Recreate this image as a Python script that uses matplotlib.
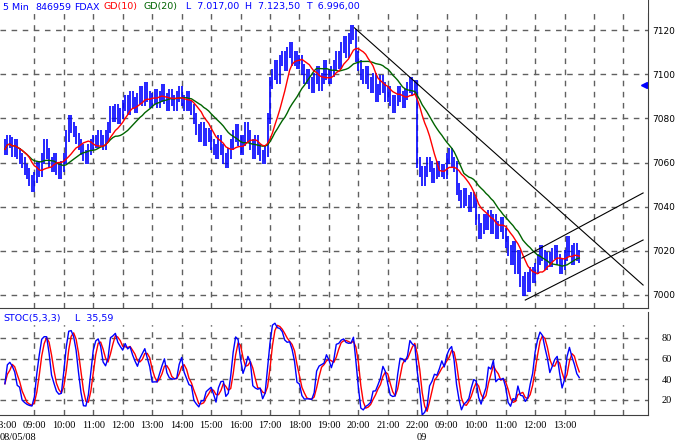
import numpy as np
import pandas as pd
import matplotlib
matplotlib.use('Agg')
import matplotlib.pyplot as plt

# 5 min closes, FDAX 08/05/08 08:00 -> 09/05/08 13:30, one row per hour
closes = [
    7066, 7070, 7069, 7065, 7068, 7064, 7062, 7060, 7057, 7055, 7052, 7049,
    7053, 7058, 7056, 7062, 7068, 7064, 7060, 7058, 7062, 7057, 7055, 7058,
    7062, 7072, 7079, 7076, 7074, 7071, 7068, 7066, 7063, 7062, 7066, 7068,
    7070, 7069, 7072, 7070, 7068, 7072, 7076, 7083, 7081, 7084, 7080, 7082,
    7086, 7088, 7084, 7090, 7087, 7085, 7089, 7092, 7088, 7094, 7090, 7087,
    7089, 7091, 7087, 7090, 7093, 7089, 7086, 7091, 7088, 7086, 7090, 7092,
    7088, 7086, 7090, 7086, 7084, 7080, 7075, 7072, 7076, 7070, 7073, 7072,
    7068, 7066, 7064, 7070, 7066, 7062, 7060, 7064, 7068, 7072, 7075, 7070,
    7066, 7070, 7076, 7072, 7068, 7064, 7070, 7066, 7063, 7062, 7065, 7080,
    7096, 7100, 7104, 7098, 7106, 7108, 7104, 7110, 7112, 7106, 7108, 7105,
    7106, 7102, 7098, 7100, 7096, 7094, 7098, 7101, 7095, 7098, 7104, 7100,
    7098, 7101, 7104, 7108, 7105, 7112, 7115, 7110, 7116, 7120, 7118, 7108,
    7104, 7100, 7098, 7101, 7096, 7094, 7098, 7090, 7093, 7097, 7094, 7090,
    7092, 7088, 7085, 7088, 7092, 7090, 7087, 7091, 7094, 7096, 7093, 7095,
    7060, 7056, 7052, 7056, 7060, 7058, 7053, 7055, 7058, 7056, 7057, 7055,
    7062, 7064, 7060, 7058, 7048, 7045, 7042, 7046, 7043, 7040, 7044, 7042,
    7034, 7028, 7030, 7034, 7032, 7036, 7030, 7034, 7028, 7031, 7033, 7028,
    7024, 7020, 7016, 7022, 7012, 7018, 7006, 7002, 7008, 7004, 7010, 7008,
    7012, 7016, 7020, 7018, 7014, 7017, 7015, 7019, 7020, 7016, 7012, 7014,
    7018, 7024, 7020, 7016, 7021, 7018, 7017,
]
first_open = 7068

tick_pos = [0, 12, 24, 36, 48, 60, 72, 84, 96, 108, 120, 132, 144, 156, 168,
            180, 192, 204, 216, 228]
tick_labels = ['08:00', '09:00', '10:00', '11:00', '12:00', '13:00', '14:00',
               '15:00', '16:00', '17:00', '18:00', '19:00', '20:00', '21:00',
               '22:00', '09:00', '10:00', '11:00', '12:00', '13:00']

# hand drawn trend lines (bar index, price)
down_line = [(142.4, 7121.0), (260.0, 7004.5)]
chan_low = [(212.0, 6997.7), (260.0, 7024.9)]
chan_up = [(210.6, 7016.7), (260.0, 7046.2)]
last_marker = (260.5, 7095)

c = np.array(closes, dtype=float)
o = np.concatenate([[first_open], c[:-1]])
hi = np.maximum(o, c) + 2.5
lo = np.minimum(o, c) - 2.5
idx = np.arange(len(c))

s = pd.Series(c)
gd10 = s.rolling(10, min_periods=1).mean()
gd20 = s.rolling(20, min_periods=1).mean()
hh = pd.Series(hi).rolling(5, min_periods=1).max()
ll = pd.Series(lo).rolling(5, min_periods=1).min()
k_raw = (s - ll) / (hh - ll) * 100
k_slow = k_raw.rolling(3, min_periods=1).mean()
d_line = k_slow.rolling(3, min_periods=1).mean()

W, H = 678, 445
fig = plt.figure(figsize=(W / 100, H / 100), dpi=100)
ax = fig.add_axes([0, 1 - 308 / H, 648 / W, 308 / H])
ax2 = fig.add_axes([0, 1 - 415 / H, 648 / W, 103 / H])

grid_kw = dict(color='#606060', lw=1, ls=(0, (4, 4)))
xmin, xmax = -2, 262
for a in (ax, ax2):
    for g in range(12, 260, 12):
        a.axvline(g, **grid_kw, zorder=0)
    a.set_xlim(xmin, xmax)
    for sp in ('left', 'top'):
        a.spines[sp].set_visible(False)
    a.spines['right'].set_color('#404040')
    a.spines['bottom'].set_color('#404040')

# price panel
for p in range(7000, 7121, 20):
    ax.axhline(p, **grid_kw, zorder=0)
ax.vlines(idx, lo, hi, color='#0000ff', lw=1.2, zorder=2)
ax.plot(idx, gd20, color='#006400', lw=1, zorder=3)
ax.plot(idx, gd10, color='#ff0000', lw=1, zorder=3)
for ln in (down_line, chan_low, chan_up):
    ax.plot([ln[0][0], ln[1][0]], [ln[0][1], ln[1][1]], color='black', lw=0.8, zorder=4)
ax.plot(*last_marker, marker='<', color='#0000ff', ms=4, clip_on=False)
ax.set_ylim(6994.1, 7133.6)
ax.yaxis.tick_right()
ax.set_yticks(range(7000, 7121, 20))
ax.tick_params(axis='y', length=0, pad=3, labelsize=6.5)
ax.set_xticks([])

# white strip behind the header line
ax.axhspan(7133.6 - 12 / 2.208, 7133.6, color='white', zorder=5)
hdr = [(3, '5 Min', '#0000ff'), (35, '846959', '#0000ff'), (74, 'FDAX', '#0000ff'),
       (104, 'GD(10)', '#ff0000'), (143, 'GD(20)', '#006400'),
       (186, 'L  7.017,00', '#0000ff'), (245, 'H  7.123,50', '#0000ff'),
       (306, 'T  6.996,00', '#0000ff')]
for px, txt, col in hdr:
    fig.text(px / W, 1 - 7 / H, txt, color=col, fontsize=6.8, va='center', ha='left', zorder=6)

# stochastic panel
for p in (20, 40, 60, 80):
    ax2.axhline(p, **grid_kw, zorder=0)
ax2.plot(idx, d_line, color='#ff0000', lw=1, zorder=2)
ax2.plot(idx, k_slow, color='#0000ff', lw=1, zorder=3)
ax2.set_ylim(5.5, 105)
ax2.axhspan(105 - 12 / 1.033, 105, color='white', zorder=1)
ax2.yaxis.tick_right()
ax2.set_yticks([20, 40, 60, 80])
ax2.tick_params(axis='y', length=0, pad=10, labelsize=7.5)
for t in ax2.get_yticklabels():
    t.set_family('Liberation Serif')
ax2.set_xticks(tick_pos)
ax2.set_xticklabels(tick_labels, family='Liberation Serif', fontsize=7.5)
ax2.tick_params(axis='x', length=0, pad=4)
fig.text(3 / W, 1 - 318 / H, 'STOC(5,3,3)', color='#0000ff', fontsize=6.8, va='center')
fig.text(75 / W, 1 - 318 / H, 'L  35,59', color='#0000ff', fontsize=6.8, va='center')
fig.text(0, 1 - 437 / H, '08/05/08', family='Liberation Serif', fontsize=7.5, va='center')
fig.text(417 / W, 1 - 437 / H, '09', family='Liberation Serif', fontsize=7.5, va='center')

fig.savefig('out.png', dpi=100, facecolor='white')
